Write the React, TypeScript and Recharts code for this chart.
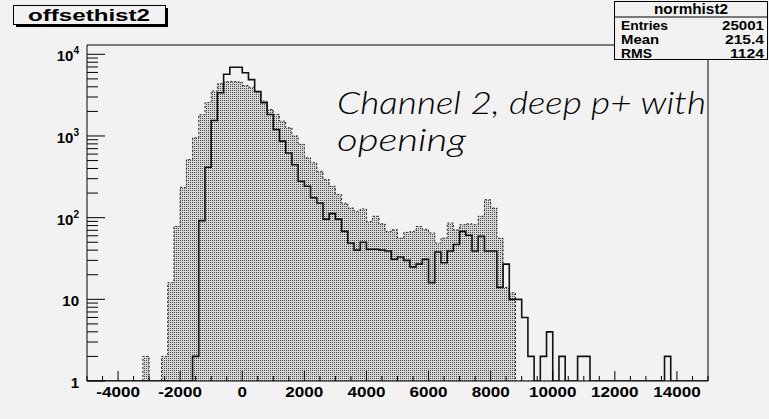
import React from 'react';
import { ComposedChart, Area, Line, XAxis, YAxis, ReferenceArea } from 'recharts';

// Histogram binning: 100 bins of width 200 from -5000 to 15000
const binStart = -5000;
const binWidth = 200;

// Filled (dotted) histogram counts per bin
const filledCounts = [
  0, 0, 0, 0, 0, 0, 0, 0, 0, 2,
  0, 0, 2, 16, 78, 235, 515, 950, 1820, 2560,
  3550, 4370, 4620, 4650, 4570, 4150, 3950, 3450, 2680, 2110,
  1835, 1520, 1260, 1000, 790, 540, 470, 370, 293, 242,
  192, 150, 131, 120, 128, 90, 104, 84, 68, 71,
  56, 66, 68, 78, 72, 65, 49, 56, 86, 71,
  82, 84, 82, 104, 166, 131, 56, 14, 12, 0,
  0, 0, 0, 0, 0, 0, 0, 0, 0, 0,
  0, 0, 0, 0, 0, 0, 0, 0, 0, 0,
  0, 0, 0, 0, 0, 0, 0, 0, 0, 0,
];

// Outline (black step line) histogram counts per bin
const lineCounts = [
  0, 0, 0, 0, 0, 0, 0, 0, 0, 0,
  0, 0, 0, 0, 0, 0, 0, 2, 92, 415,
  1550, 3390, 5690, 6930, 6930, 5950, 4900, 3500, 2560, 1835,
  1200, 865, 620, 445, 279, 242, 175, 151, 96, 112,
  96, 68, 49, 40, 50, 41, 41, 40, 39, 31,
  33, 30, 25, 27, 31, 16, 38, 28, 39, 47,
  68, 61, 39, 59, 39, 39, 14, 27, 10, 10,
  6, 2, 0, 2, 4, 0, 2, 0, 0, 2,
  2, 0, 0, 0, 0, 0, 0, 0, 0, 0,
  0, 0, 0, 2, 0, 0, 0, 0, 0, 0,
];

const xTicks = [
  -5000, -4500, -4000, -3500, -3000, -2500, -2000, -1500, -1000, -500,
  0, 500, 1000, 1500, 2000, 2500, 3000, 3500, 4000, 4500,
  5000, 5500, 6000, 6500, 7000, 7500, 8000, 8500, 9000, 9500,
  10000, 10500, 11000, 11500, 12000, 12500, 13000, 13500, 14000, 14500, 15000,
];
const xLabelTicks = [-4000, -2000, 0, 2000, 4000, 6000, 8000, 10000, 12000, 14000];

const yTicks = [
  1, 2, 3, 4, 5, 6, 7, 8, 9,
  10, 20, 30, 40, 50, 60, 70, 80, 90,
  100, 200, 300, 400, 500, 600, 700, 800, 900,
  1000, 2000, 3000, 4000, 5000, 6000, 7000, 8000, 9000,
  10000,
];

const statsTitle = 'normhist2';
const statsRows = [
  ['Entries', '25001'],
  ['Mean', '215.4'],
  ['RMS', '1124'],
];
const statsLabelWidths = [47, 38, 31];
const statsValueWidths = [42, 39, 34];
const histTitle = 'offsethist2';
const annotationLines = ['Channel 2, deep p+ with', 'opening'];

// Build table for step drawing (clamped to axis minimum for log scale)
const data = filledCounts.map((_, i) => ({
  x: binStart + i * binWidth,
  filled: Math.max(filledCounts[i], 1),
  line: Math.max(lineCounts[i], 1),
}));
data.push({
  x: binStart + filledCounts.length * binWidth,
  filled: Math.max(filledCounts[filledCounts.length - 1], 1),
  line: Math.max(lineCounts[lineCounts.length - 1], 1),
});

const FONT = "'Liberation Sans', Arial, Helvetica, sans-serif";

const XTick = (props: any) => {
  const { x, y, payload } = props;
  const v = payload.value as number;
  const major = v % 2000 === 0;
  const show = xLabelTicks.includes(v);
  return (
    <g>
      <line x1={x} x2={x} y1={y} y2={y - (major ? 10 : 5)} stroke="#000" strokeWidth={1} />
      {show && (
        <text
          transform={`translate(${x},${y + 16}) scale(1.22,1)`}
          textAnchor="middle"
          fontFamily={FONT}
          fontWeight="bold"
          fontSize={14}
          fill="#000"
        >
          {String(v)}
        </text>
      )}
    </g>
  );
};

const YTick = (props: any) => {
  const { x, y, payload } = props;
  const v = payload.value as number;
  const lg = Math.log10(v);
  const exp = Math.round(lg);
  const major = Math.abs(lg - exp) < 1e-9;
  return (
    <g>
      <line x1={x} x2={x + (major ? 18 : 11)} y1={y} y2={y} stroke="#000" strokeWidth={1} />
      {major && (
        <text
          x={x - 8}
          y={y + 7}
          textAnchor="end"
          fontFamily={FONT}
          fontWeight="bold"
          fontSize={15}
          fill="#000"
        >
          {exp === 0 ? '1' : exp === 1 ? '10' : (
            <>
              <tspan>10</tspan>
              <tspan dy={-7} fontSize={10}>{String(exp)}</tspan>
            </>
          )}
        </text>
      )}
    </g>
  );
};

export default function App() {
  return (
    <div style={{ position: 'absolute', left: 0, top: 0, width: 769, height: 419, background: '#f2f2f2' }}>
      <ComposedChart
        width={769}
        height={419}
        data={data}
        margin={{ top: 45, right: 61, bottom: 0, left: 0 }}
      >
        <defs>
          <pattern id="dots" width="2" height="2" patternUnits="userSpaceOnUse">
            <rect width="2" height="2" fill="#d6d6d6" />
            <rect width="1" height="1" fill="#4a4a4a" />
          </pattern>
        </defs>
        <XAxis
          dataKey="x"
          type="number"
          domain={[-5000, 15000]}
          ticks={xTicks}
          interval={0}
          allowDataOverflow
          height={38}
          tickSize={0}
          tickMargin={0}
          axisLine={false}
          tickLine={false}
          tick={<XTick />}
        />
        <YAxis
          scale="log"
          domain={[1, 13000]}
          ticks={yTicks}
          interval={0}
          allowDataOverflow
          width={87}
          tickSize={0}
          tickMargin={0}
          axisLine={false}
          tickLine={false}
          tick={<YTick />}
        />
        <Area
          dataKey="filled"
          type="stepAfter"
          baseValue={1}
          fill="url(#dots)"
          fillOpacity={1}
          stroke="#222"
          strokeWidth={1}
          strokeDasharray="2 2"
          dot={false}
          activeDot={false}
          isAnimationActive={false}
        />
        <Line
          dataKey="line"
          type="stepAfter"
          stroke="#111"
          strokeWidth={1.6}
          dot={false}
          activeDot={false}
          isAnimationActive={false}
        />
        <ReferenceArea
          x1={-5000}
          x2={15000}
          y1={1}
          y2={13000}
          fill="none"
          fillOpacity={0}
          stroke="#000"
          strokeWidth={1}
          ifOverflow="visible"
        />
      </ComposedChart>
      <svg
        width={769}
        height={419}
        style={{ position: 'absolute', left: 0, top: 0, pointerEvents: 'none' }}
      >
        {/* title box */}
        <rect x={16} y={8} width={152} height={19} fill="#000" />
        <rect x={13.5} y={5.5} width={152} height={19} fill="#f2f2f2" stroke="#000" strokeWidth={1} />
        <text
          x={89}
          y={21}
          textAnchor="middle"
          fontFamily={FONT}
          fontWeight="bold"
          fontSize={16}
          textLength={122}
          lengthAdjust="spacingAndGlyphs"
          fill="#000"
        >
          {histTitle}
        </text>
        {/* stats box */}
        <rect x={614.5} y={1.5} width={153} height={58} fill="#f2f2f2" stroke="#000" strokeWidth={1} />
        <line x1={615} x2={767} y1={17} y2={17} stroke="#000" strokeWidth={1} />
        <text x={691} y={14} textAnchor="middle" fontFamily={FONT} fontWeight="bold" fontSize={14} textLength={74} lengthAdjust="spacingAndGlyphs" fill="#000">
          {statsTitle}
        </text>
        {statsRows.map((r, i) => (
          <g key={r[0]}>
            <text x={621} y={30 + i * 14} fontFamily={FONT} fontWeight="bold" fontSize={12.5} textLength={statsLabelWidths[i]} lengthAdjust="spacingAndGlyphs" fill="#000">{r[0]}</text>
            <text x={764} y={30 + i * 14} textAnchor="end" fontFamily={FONT} fontWeight="bold" fontSize={12.5} textLength={statsValueWidths[i]} lengthAdjust="spacingAndGlyphs" fill="#000">{r[1]}</text>
          </g>
        ))}
        {/* annotation */}
        {annotationLines.map((t, i) => (
          <text
            key={t}
            x={337}
            y={114 + i * 37}
            fontFamily="Lato, 'Open Sans', 'DejaVu Sans', sans-serif"
            fontStyle="italic"
            fontWeight={300}
            fontSize={32}
            textLength={i === 0 ? 369 : 129}
            lengthAdjust="spacingAndGlyphs"
            fill="#000"
          >
            {t}
          </text>
        ))}
      </svg>
    </div>
  );
}
